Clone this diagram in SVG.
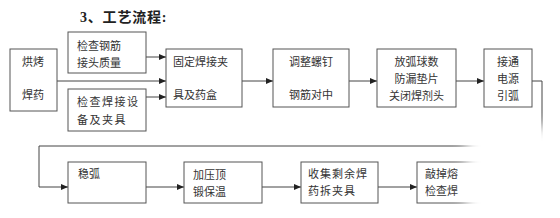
<svg xmlns="http://www.w3.org/2000/svg" width="560" height="218" viewBox="0 0 560 218">
<style>
.box{fill:#fff;stroke:#555;stroke-width:1}
.t{font-family:"Noto Sans CJK SC","Liberation Sans",sans-serif;font-size:11px;fill:#333}
.c{text-anchor:middle}
.ln{fill:none;stroke:#444;stroke-width:1}
.title{font-family:"Liberation Serif","Noto Sans CJK SC",serif;font-size:14px;font-weight:bold;fill:#222}
</style>
<defs>
<marker id="ah" markerWidth="8" markerHeight="6" refX="7" refY="3" orient="auto" markerUnits="userSpaceOnUse">
<path d="M0,0 L7,3 L0,6 Z" fill="#222"/>
</marker>
<filter id="blur" x="-50%" y="-50%" width="200%" height="200%">
<feGaussianBlur stdDeviation="7"/>
</filter>
</defs>
<rect width="560" height="218" fill="#fff"/>
<text class="title" x="80" y="22" letter-spacing="0.8">3、工艺流程:</text>
<g id="connectors">
<line class="ln" x1="146" y1="57" x2="166" y2="57" marker-end="url(#ah)"/>
<line class="ln" x1="57" y1="81" x2="166" y2="81" marker-end="url(#ah)"/>
<line class="ln" x1="146" y1="97" x2="166" y2="97" marker-end="url(#ah)"/>
<line class="ln" x1="242" y1="81" x2="273" y2="81" marker-end="url(#ah)"/>
<line class="ln" x1="349" y1="81" x2="377" y2="81" marker-end="url(#ah)"/>
<line class="ln" x1="456" y1="81" x2="484" y2="81" marker-end="url(#ah)"/>
<polyline class="ln" points="532,81 542,81 542,146 39,146 39,187 68,187" marker-end="url(#ah)"/>
<line class="ln" x1="146" y1="187" x2="184" y2="187" marker-end="url(#ah)"/>
<line class="ln" x1="262" y1="187" x2="301" y2="187" marker-end="url(#ah)"/>
<line class="ln" x1="378" y1="187" x2="417" y2="187" marker-end="url(#ah)"/>
</g>
<g id="n1"><rect class="box" x="10" y="49" width="47" height="62"/>
<text class="t" x="22" y="66">烘烤</text><text class="t" x="22" y="99">焊药</text></g>
<g id="n2"><rect class="box" x="68" y="32" width="78" height="41"/>
<text class="t" x="77" y="50">检查钢筋</text><text class="t" x="77" y="67">接头质量</text></g>
<g id="n3"><rect class="box" x="68" y="89" width="78" height="42"/>
<text class="t" x="77" y="106" letter-spacing="1.5">检查焊接设</text><text class="t" x="77" y="124" letter-spacing="1.5">备及夹具</text></g>
<g id="n4"><rect class="box" x="166" y="49" width="76" height="58"/>
<text class="t" x="173" y="66">固定焊接夹</text><text class="t" x="173" y="99">具及药盒</text></g>
<g id="n5"><rect class="box" x="273" y="49" width="76" height="58"/>
<text class="t c" x="311" y="66">调整螺钉</text><text class="t c" x="311" y="99">钢筋对中</text></g>
<g id="n6"><rect class="box" x="377" y="49" width="79" height="58"/>
<text class="t c" x="416.5" y="66">放弧球数</text><text class="t c" x="416.5" y="83">防漏垫片</text><text class="t c" x="416.5" y="100">关闭焊剂头</text></g>
<g id="n7"><rect class="box" x="484" y="49" width="48" height="58"/>
<text class="t c" x="508" y="66">接通</text><text class="t c" x="508" y="83">电源</text><text class="t c" x="508" y="100">引弧</text></g>
<g id="n8"><rect class="box" x="68" y="162" width="78" height="41"/>
<text class="t" x="78" y="178">稳弧</text></g>
<g id="n9"><rect class="box" x="184" y="162" width="78" height="41"/>
<text class="t" x="193" y="179">加压顶</text><text class="t" x="193" y="196">锻保温</text></g>
<g id="n10"><rect class="box" x="301" y="162" width="77" height="41"/>
<text class="t" x="308" y="178" letter-spacing="1">收集剩余焊</text><text class="t" x="308" y="195" letter-spacing="1">药拆夹具</text></g>
<g id="n11"><rect class="box" x="417" y="162" width="80" height="41"/>
<text class="t" x="425" y="178">敲掉熔</text><text class="t" x="425" y="195">检查焊</text></g>
<rect x="466" y="126" width="110" height="106" fill="#fff" filter="url(#blur)"/>
</svg>
